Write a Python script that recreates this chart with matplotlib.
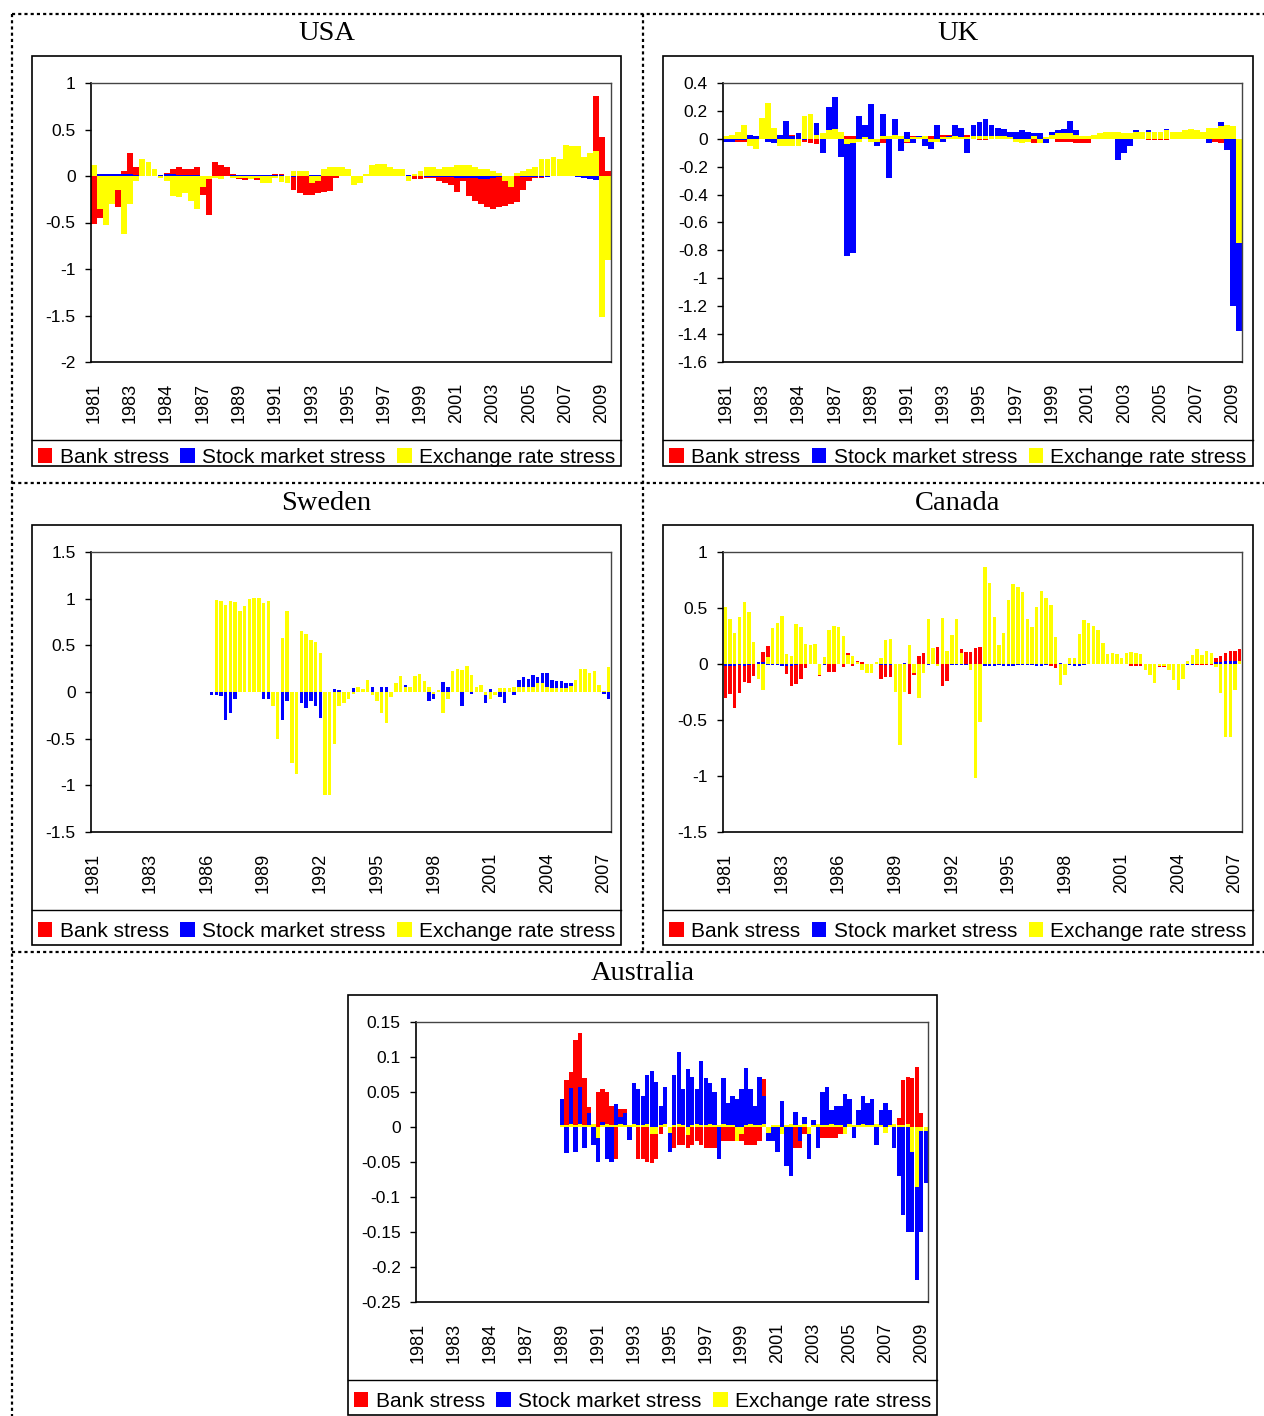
import numpy as np
import matplotlib
matplotlib.use("Agg")
import matplotlib.pyplot as plt
from matplotlib.patches import Rectangle, Patch
from matplotlib.lines import Line2D

plt.rcParams['font.family'] = ['Liberation Sans', 'DejaVu Sans']

W, H = 1264, 1416

# ---- data ----
years_long = ["1981", "1983", "1984", "1987", "1989", "1991", "1993", "1995",
              "1997", "1999", "2001", "2003", "2005", "2007", "2009"]
years_short = ["1981", "1983", "1986", "1989", "1992", "1995", "1998", "2001",
               "2004", "2007"]

# USA, one row per label interval
usa_bank = [
    -0.52, -0.45, -0.15, -0.22, -0.33, 0.05,
    0.25, 0.10, 0.10, 0.02, 0.00, 0.00,
    0.03, 0.08, 0.10, 0.08, 0.07, 0.10,
    -0.20, -0.42, 0.15, 0.12, 0.10, 0.02,
    -0.03, -0.04, -0.03, -0.04, -0.04, -0.01,
    0.02, 0.02, -0.02, -0.15, -0.18, -0.20,
    -0.20, -0.18, -0.17, -0.16, -0.02, 0.00,
    0.00, 0.00, 0.00, 0.00, 0.01, 0.01,
    0.01, 0.01, 0.01, 0.01, -0.02, -0.03,
    -0.03, -0.02, -0.02, -0.05, -0.08, -0.10,
    -0.17, -0.05, -0.22, -0.27, -0.30, -0.33,
    -0.36, -0.33, -0.32, -0.30, -0.28, -0.15,
    -0.05, -0.02, -0.02, 0.00, 0.00, 0.00,
    0.00, 0.00, 0.00, 0.18, 0.25, 0.86,
    0.42, 0.05,
]
usa_stock = [
    0.02, 0.02, 0.02, 0.02, 0.02, 0.02,
    0.02, 0.01, 0.01, 0.00, 0.00, 0.01,
    0.02, 0.02, 0.01, 0.01, 0.01, 0.01,
    -0.02, -0.03, -0.02, -0.01, 0.00, 0.01,
    0.01, 0.01, 0.01, 0.01, 0.01, 0.01,
    0.01, 0.01, -0.01, -0.01, 0.00, 0.00,
    0.01, 0.01, 0.01, 0.00, 0.00, 0.00,
    0.00, 0.00, 0.00, 0.00, 0.00, 0.00,
    0.00, 0.00, 0.00, 0.00, 0.01, 0.01,
    0.01, -0.01, -0.01, -0.01, -0.01, -0.01,
    -0.02, -0.02, -0.02, -0.02, -0.03, -0.03,
    -0.02, -0.01, -0.01, 0.00, 0.00, -0.01,
    -0.01, -0.01, -0.01, -0.01, 0.00, 0.00,
    0.00, 0.00, -0.01, -0.02, -0.03, -0.04,
    -0.05, -0.01,
]
usa_fx = [
    0.12, -0.35, -0.53, -0.30, -0.15, -0.62,
    -0.30, -0.05, 0.18, 0.15, 0.08, -0.02,
    -0.05, -0.22, -0.23, -0.18, -0.27, -0.35,
    -0.12, -0.03, -0.02, -0.03, 0.00, -0.02,
    -0.02, -0.02, -0.03, -0.02, -0.08, -0.08,
    -0.02, -0.06, -0.08, 0.05, 0.05, 0.05,
    -0.08, -0.05, 0.08, 0.10, 0.10, 0.10,
    0.08, -0.10, -0.08, 0.02, 0.12, 0.13,
    0.13, 0.10, 0.08, 0.07, -0.05, 0.02,
    0.05, 0.10, 0.10, 0.08, 0.10, 0.10,
    0.12, 0.12, 0.12, 0.10, 0.08, 0.08,
    0.05, 0.03, -0.05, -0.12, 0.03, 0.05,
    0.08, 0.10, 0.18, 0.18, 0.20, 0.18,
    0.33, 0.32, 0.32, 0.20, 0.25, 0.27,
    -1.52, -0.90,
]

# UK
uk_bank = [
    -0.01, 0.01, -0.02, -0.02, 0.00, 0.00,
    0.00, 0.00, 0.00, 0.03, 0.02, 0.03,
    0.02, -0.02, -0.03, -0.04, 0.00, 0.00,
    0.00, 0.02, 0.02, 0.02, 0.00, 0.00,
    -0.02, -0.02, -0.03, 0.00, 0.00, -0.02,
    -0.03, 0.02, 0.02, 0.00, 0.02, 0.03,
    0.03, 0.03, 0.00, 0.00, 0.03, 0.00,
    -0.01, -0.01, 0.00, 0.00, 0.00, 0.00,
    0.00, 0.00, -0.02, -0.03, -0.02, 0.00,
    0.00, -0.02, -0.02, -0.02, -0.03, -0.03,
    -0.03, 0.00, 0.00, 0.00, 0.00, 0.00,
    0.00, 0.00, 0.00, 0.00, -0.01, -0.01,
    -0.01, -0.01, 0.00, 0.00, 0.00, 0.00,
    0.00, 0.00, 0.00, -0.02, -0.03, 0.00,
    0.00, 0.00,
]
uk_stock = [
    -0.02, -0.02, -0.01, -0.01, 0.03, 0.02,
    0.02, -0.02, -0.03, 0.03, 0.13, 0.02,
    0.04, -0.01, 0.00, 0.11, -0.10, 0.23,
    0.30, -0.13, -0.84, -0.82, 0.16, 0.10,
    0.25, -0.05, 0.18, -0.28, 0.14, -0.09,
    0.05, -0.03, 0.02, -0.05, -0.07, 0.10,
    -0.02, 0.02, 0.10, 0.08, -0.10, 0.10,
    0.12, 0.14, 0.10, 0.08, 0.07, 0.05,
    0.05, 0.06, 0.05, 0.04, 0.04, -0.03,
    0.05, 0.06, 0.07, 0.13, 0.06, 0.02,
    0.01, 0.02, 0.04, 0.05, 0.04, -0.15,
    -0.10, -0.05, 0.06, 0.04, 0.06, 0.05,
    0.05, 0.07, 0.05, 0.05, 0.04, 0.04,
    0.03, 0.04, -0.03, 0.04, 0.12, -0.08,
    -1.20, -1.38,
]
uk_fx = [
    0.02, 0.03, 0.05, 0.10, -0.05, -0.07,
    0.15, 0.26, 0.08, -0.05, -0.05, -0.05,
    -0.05, 0.16, 0.18, 0.03, 0.04, 0.06,
    0.07, 0.05, -0.04, -0.03, -0.02, 0.01,
    -0.02, -0.02, 0.02, 0.02, 0.03, 0.02,
    -0.02, 0.01, 0.01, 0.02, -0.02, -0.02,
    0.01, 0.01, 0.02, 0.01, 0.01, 0.02,
    0.02, 0.02, 0.02, 0.02, 0.02, 0.01,
    -0.02, -0.03, -0.02, 0.02, -0.03, 0.01,
    0.03, 0.04, 0.04, 0.04, 0.03, 0.02,
    0.02, 0.03, 0.04, 0.05, 0.05, 0.05,
    0.04, 0.04, 0.05, 0.05, 0.05, 0.05,
    0.05, 0.06, 0.05, 0.05, 0.06, 0.07,
    0.06, 0.05, 0.08, 0.08, 0.09, 0.10,
    0.09, -0.75,
]

# Sweden (no bank stress series shown)
swe_bank = [0.0] * 110
swe_stock = [
    0.00, 0.00, 0.00, 0.00, 0.00, 0.00, 0.00, 0.00, 0.00, 0.00, 0.00, 0.00,
    0.00, 0.00, 0.00, 0.00, 0.00, 0.00, 0.00, 0.00, 0.00, 0.00, 0.00, 0.00,
    0.00, -0.03, -0.03, -0.04, -0.30, -0.23, -0.08, 0.02, 0.00, 0.00, 0.00, 0.00,
    -0.08, -0.08, 0.00, -0.15, -0.30, -0.10, 0.00, 0.00, -0.12, -0.17, -0.10, -0.15,
    -0.28, -0.17, 0.00, 0.03, 0.02, 0.00, 0.00, 0.04, 0.00, 0.00, 0.05, 0.05,
    0.00, 0.05, 0.05, 0.00, 0.00, 0.10, 0.08, 0.00, 0.00, 0.00, 0.00, -0.10,
    -0.07, 0.00, 0.11, 0.05, 0.00, 0.00, -0.15, 0.00, -0.02, 0.00, 0.00, -0.12,
    0.03, -0.03, -0.05, -0.12, 0.00, -0.03, 0.13, 0.16, 0.14, 0.18, 0.16, 0.20,
    0.20, 0.13, 0.12, 0.12, 0.10, 0.10, 0.00, 0.00, 0.00, 0.00, 0.00, 0.00,
    -0.02, -0.08,
]
swe_fx = [
    0.00, 0.00, 0.00, 0.00, 0.00, 0.00, 0.00, 0.00, 0.00, 0.00, 0.00, 0.00,
    0.00, 0.00, 0.00, 0.00, 0.00, 0.00, 0.00, 0.00, 0.00, 0.00, 0.00, 0.00,
    0.00, 0.00, 0.99, 0.97, 0.93, 0.97, 0.96, 0.87, 0.92, 1.00, 1.01, 1.01,
    0.95, 0.98, -0.15, -0.50, 0.58, 0.87, -0.76, -0.88, 0.65, 0.62, 0.56, 0.54,
    0.42, -1.10, -1.10, -0.56, -0.15, -0.12, -0.08, -0.02, 0.05, 0.03, 0.13, -0.03,
    -0.10, -0.22, -0.33, -0.05, 0.10, 0.17, 0.05, 0.05, 0.17, 0.19, 0.12, 0.05,
    -0.02, 0.02, -0.22, -0.08, 0.22, 0.25, 0.24, 0.28, 0.18, 0.05, 0.08, -0.03,
    -0.07, -0.03, 0.04, 0.04, 0.04, 0.05, 0.05, 0.05, 0.05, 0.05, 0.10, 0.10,
    0.05, 0.04, 0.04, 0.04, 0.04, 0.06, 0.13, 0.25, 0.25, 0.20, 0.23, 0.08,
    0.01, 0.27,
]

# Canada
can_bank = [
    -0.30, -0.27, -0.39, -0.26, -0.16, -0.17, -0.11, 0.00, 0.11, 0.16, 0.14, 0.00,
    0.00, -0.09, -0.20, -0.18, -0.13, -0.04, 0.00, 0.00, -0.11, 0.00, -0.07, -0.07,
    0.00, -0.03, 0.10, -0.02, 0.03, 0.02, -0.03, -0.03, 0.00, -0.13, -0.12, -0.12,
    -0.10, -0.26, 0.00, -0.27, -0.10, 0.07, 0.10, 0.08, 0.00, 0.15, -0.20, -0.15,
    0.14, 0.13, 0.13, 0.11, 0.11, 0.14, 0.15, 0.00, 0.00, 0.00, 0.00, 0.02,
    0.10, 0.00, 0.00, 0.00, 0.00, 0.00, 0.00, 0.00, 0.00, -0.02, -0.04, 0.00,
    0.00, 0.00, 0.00, 0.00, 0.00, 0.00, 0.00, 0.00, 0.00, 0.00, 0.00, 0.00,
    0.00, 0.00, -0.02, -0.02, -0.02, -0.03, -0.03, -0.03, -0.03, -0.03, -0.01, -0.01,
    -0.01, -0.01, -0.01, -0.01, -0.01, -0.01, -0.01, -0.01, 0.05, 0.07, 0.10, 0.12,
    0.12, 0.13,
]
can_stock = [
    -0.02, -0.02, -0.02, -0.01, -0.02, -0.01, 0.02, 0.02, 0.02, -0.01, -0.01, -0.01,
    -0.02, -0.02, -0.02, -0.01, 0.01, 0.01, 0.01, 0.00, -0.01, -0.01, 0.00, 0.00,
    0.00, 0.03, 0.05, 0.03, 0.01, 0.00, -0.01, -0.01, 0.00, -0.01, -0.01, -0.01,
    -0.01, 0.00, 0.01, 0.01, -0.01, 0.00, -0.01, -0.01, 0.00, 0.00, 0.01, 0.00,
    -0.01, -0.01, -0.01, -0.01, -0.01, -0.01, -0.01, -0.02, -0.02, -0.02, -0.01, -0.02,
    -0.02, -0.02, -0.01, -0.01, -0.01, -0.01, -0.02, -0.02, -0.01, 0.04, 0.02, 0.01,
    -0.01, -0.01, -0.02, -0.02, -0.01, 0.00, 0.00, 0.00, 0.00, 0.00, 0.00, 0.00,
    0.00, 0.00, 0.01, 0.00, 0.00, 0.00, 0.00, -0.01, -0.01, 0.00, -0.01, -0.01,
    0.00, 0.00, -0.01, -0.01, 0.00, 0.00, 0.01, 0.00, 0.02, 0.02, 0.03, 0.03,
    0.03, 0.03,
]
can_fx = [
    0.51, 0.40, 0.28, 0.42, 0.55, 0.46, 0.20, -0.13, -0.23, 0.06, 0.32, 0.37,
    0.43, 0.09, 0.07, 0.36, 0.33, 0.18, 0.17, 0.18, -0.10, 0.06, 0.30, 0.34,
    0.33, 0.25, 0.08, 0.07, 0.02, -0.05, -0.08, -0.08, 0.02, 0.05, 0.21, 0.22,
    -0.25, -0.72, -0.25, 0.17, -0.08, -0.30, -0.08, 0.40, 0.14, -0.02, 0.41, 0.12,
    0.26, 0.40, 0.10, 0.00, -0.05, -1.02, -0.52, 0.87, 0.72, 0.42, 0.17, 0.28,
    0.57, 0.71, 0.69, 0.64, 0.40, 0.33, 0.51, 0.65, 0.59, 0.53, 0.24, -0.19,
    -0.10, 0.05, 0.05, 0.27, 0.39, 0.37, 0.34, 0.30, 0.19, 0.09, 0.10, 0.09,
    0.05, 0.10, 0.11, 0.10, 0.09, -0.05, -0.10, -0.17, -0.02, -0.02, -0.05, -0.14,
    -0.23, -0.13, 0.03, 0.08, 0.13, 0.08, 0.12, 0.10, -0.03, -0.26, -0.65, -0.65,
    -0.23, 0.03,
]

# Australia (series start in 1989)
aus_bank = [
    0.0, 0.0, 0.0, 0.0, 0.0, 0.0, 0.0, 0.0,
    0.0, 0.0, 0.0, 0.0, 0.0, 0.0, 0.0, 0.0,
    0.0, 0.0, 0.0, 0.0, 0.0, 0.0, 0.0, 0.0,
    0.0, 0.0, 0.0, 0.0, 0.0, 0.0, 0.0, 0.0,
    0.000, 0.067, 0.079, 0.125, 0.135, 0.070, 0.029, 0.000,
    0.050, 0.055, 0.050, 0.030, -0.045, 0.026, 0.026, 0.000,
    0.000, -0.045, -0.045, -0.050, -0.052, -0.045, -0.010, 0.000,
    -0.020, -0.030, -0.025, -0.025, -0.030, -0.025, -0.020, -0.025,
    -0.030, -0.030, -0.030, -0.025, -0.020, -0.020, -0.020, -0.020,
    -0.020, -0.025, -0.025, -0.025, -0.020, 0.069, -0.010, 0.000,
    0.000, 0.000, -0.020, -0.030, -0.030, -0.030, -0.010, -0.005,
    0.000, -0.015, -0.015, -0.015, -0.015, -0.015, -0.010, 0.000,
    0.000, 0.000, 0.000, 0.000, 0.000, 0.000, 0.000, 0.000,
    0.000, 0.005, 0.005, 0.013, 0.067, 0.072, 0.070, 0.086,
    0.020, 0.000,
]
aus_stock = [
    0.0, 0.0, 0.0, 0.0, 0.0, 0.0, 0.0, 0.0,
    0.0, 0.0, 0.0, 0.0, 0.0, 0.0, 0.0, 0.0,
    0.0, 0.0, 0.0, 0.0, 0.0, 0.0, 0.0, 0.0,
    0.0, 0.0, 0.0, 0.0, 0.0, 0.0, 0.0, 0.0,
    0.040, -0.037, 0.056, -0.035, 0.057, -0.030, 0.020, -0.025,
    -0.050, 0.007, -0.045, -0.050, 0.033, 0.014, 0.020, -0.018,
    0.063, 0.055, 0.045, 0.075, 0.080, 0.065, 0.030, 0.057,
    -0.035, 0.074, 0.107, 0.055, 0.083, 0.072, 0.055, 0.094,
    0.070, 0.063, 0.050, -0.045, 0.070, 0.035, 0.045, 0.040,
    0.055, 0.085, 0.055, 0.030, 0.072, 0.045, -0.020, -0.020,
    -0.035, 0.037, -0.055, -0.070, 0.022, -0.020, 0.015, -0.045,
    0.010, -0.030, 0.050, 0.057, 0.025, 0.030, 0.030, 0.047,
    0.040, -0.015, 0.025, 0.045, 0.035, 0.040, -0.025, 0.025,
    0.035, 0.025, -0.030, -0.070, -0.125, -0.150, -0.150, -0.218,
    -0.150, -0.080,
]
aus_fx = [
    0.0, 0.0, 0.0, 0.0, 0.0, 0.0, 0.0, 0.0,
    0.0, 0.0, 0.0, 0.0, 0.0, 0.0, 0.0, 0.0,
    0.0, 0.0, 0.0, 0.0, 0.0, 0.0, 0.0, 0.0,
    0.0, 0.0, 0.0, 0.0, 0.0, 0.0, 0.0, 0.0,
    0.003, 0.003, 0.004, 0.003, 0.004, 0.003, 0.003, 0.004,
    -0.015, 0.003, 0.004, 0.003, 0.003, 0.004, 0.003, 0.003,
    0.004, 0.003, 0.003, 0.004, -0.010, -0.010, 0.003, 0.004,
    -0.008, 0.003, 0.004, 0.003, -0.012, 0.003, 0.004, 0.003,
    0.003, 0.004, 0.003, 0.003, 0.004, 0.003, 0.003, -0.020,
    -0.010, 0.003, 0.004, 0.003, 0.003, 0.004, -0.008, 0.003,
    0.003, -0.010, 0.003, 0.004, 0.003, 0.003, 0.004, -0.010,
    0.003, 0.004, 0.003, 0.003, 0.004, 0.003, 0.003, -0.010,
    0.004, 0.003, 0.003, 0.004, 0.003, 0.003, 0.004, 0.003,
    -0.008, 0.003, 0.004, 0.003, 0.003, 0.004, -0.035, -0.085,
    -0.005, -0.005,
]

RED, BLUE, YELLOW = '#FF0000', '#0000FF', '#FFFF00'


def fx_(x):
    return x / W


def fy_(y):
    return 1 - y / H


fig = plt.figure(figsize=(W / 100, H / 100), dpi=100)

# dotted separators of the whole page
dots = dict(color='black', lw=1.6, linestyle=(0, (1.4, 1.4)))
for (x0, y0, x1, y1) in [(12, 14, 1264, 14), (12, 14, 12, 1416), (643, 14, 643, 952),
                         (12, 483, 1264, 483), (12, 952, 1264, 952)]:
    fig.add_artist(Line2D([fx_(x0), fx_(x1)], [fy_(y0), fy_(y1)],
                          transform=fig.transFigure, **dots))


def panel(title, box, plot, sep_y, bank, stock, fxs, step, xlabels, yticks, ylabels, width):
    bx0, by0, bx1, by1 = box
    fig.add_artist(Rectangle((fx_(bx0), fy_(by1)), (bx1 - bx0) / W, (by1 - by0) / H,
                             transform=fig.transFigure, fill=False, ec='black', lw=1.2))
    fig.add_artist(Line2D([fx_(bx0), fx_(bx1)], [fy_(sep_y), fy_(sep_y)],
                          transform=fig.transFigure, color='black', lw=1.0))
    fig.text(fx_((bx0 + bx1) / 2), fy_(by0 - 22), title, ha='center', va='center',
             fontsize=20.5, family=['Liberation Serif', 'DejaVu Serif'])

    px0, py0, px1, py1 = plot
    ax = fig.add_axes([fx_(px0), fy_(py1), (px1 - px0) / W, (py1 - py0) / H])
    n = len(bank)
    x = np.arange(n)
    ax.bar(x, bank, width, color=RED, lw=0)
    ax.bar(x, stock, width, color=BLUE, lw=0)
    ax.bar(x, fxs, width, color=YELLOW, lw=0)
    ax.set_xlim(-0.5, n - 0.5)
    ax.set_ylim(yticks[0], yticks[-1])
    ax.set_yticks(yticks, ylabels)
    ax.set_xticks(np.arange(0, n, step)[:len(xlabels)], xlabels, rotation=90)
    ax.tick_params(axis='x', length=0, pad=15, labelsize=13)
    ax.tick_params(axis='y', length=4, width=1, direction='out', pad=7, labelsize=12.5)
    for s in ['left', 'bottom']:
        ax.spines[s].set_color('black')
        ax.spines[s].set_linewidth(1.2)
    for s in ['top', 'right']:
        ax.spines[s].set_color('#444444')
        ax.spines[s].set_linewidth(1.0)

    handles = [Patch(fc=RED, ec='none', label='Bank stress'),
               Patch(fc=BLUE, ec='none', label='Stock market stress'),
               Patch(fc=YELLOW, ec='none', label='Exchange rate stress')]
    fig.legend(handles=handles, loc='center', ncol=3, frameon=False,
               bbox_to_anchor=(fx_((bx0 + bx1) / 2), fy_((sep_y + by1) / 2 + 4)),
               fontsize=15, handlelength=0.7, handleheight=0.7,
               handletextpad=0.35, columnspacing=0.55, borderpad=0, borderaxespad=0)
    return ax


usa_ticks = [-2, -1.5, -1, -0.5, 0, 0.5, 1]
usa_tlab = ["-2", "-1.5", "-1", "-0.5", "0", "0.5", "1"]
uk_ticks = [-1.6, -1.4, -1.2, -1.0, -0.8, -0.6, -0.4, -0.2, 0, 0.2, 0.4]
uk_tlab = ["-1.6", "-1.4", "-1.2", "-1", "-0.8", "-0.6", "-0.4", "-0.2", "0", "0.2", "0.4"]
swe_ticks = [-1.5, -1, -0.5, 0, 0.5, 1, 1.5]
swe_tlab = ["-1.5", "-1", "-0.5", "0", "0.5", "1", "1.5"]
can_ticks = [-1.5, -1, -0.5, 0, 0.5, 1]
can_tlab = ["-1.5", "-1", "-0.5", "0", "0.5", "1"]
aus_ticks = [-0.25, -0.2, -0.15, -0.1, -0.05, 0, 0.05, 0.1, 0.15]
aus_tlab = ["-0.25", "-0.2", "-0.15", "-0.1", "-0.05", "0", "0.05", "0.1", "0.15"]

panel("USA", (32, 56, 621, 466), (91, 83, 611, 362), 440,
      usa_bank, usa_stock, usa_fx, 6, years_long, usa_ticks, usa_tlab, 0.97)
panel("UK", (663, 56, 1253, 466), (723, 83, 1242, 362), 440,
      uk_bank, uk_stock, uk_fx, 6, years_long, uk_ticks, uk_tlab, 0.97)
panel("Sweden", (32, 525, 621, 945), (91, 552, 611, 832), 910,
      swe_bank, swe_stock, swe_fx, 12, years_short, swe_ticks, swe_tlab, 0.72)
panel("Canada", (663, 525, 1253, 945), (723, 552, 1242, 832), 910,
      can_bank, can_stock, can_fx, 12, years_short, can_ticks, can_tlab, 0.72)
panel("Australia", (348, 995, 937, 1415), (416, 1022, 928, 1302), 1380,
      aus_bank, aus_stock, aus_fx, 8, years_long, aus_ticks, aus_tlab, 0.97)

fig.savefig("out.png", dpi=100)
